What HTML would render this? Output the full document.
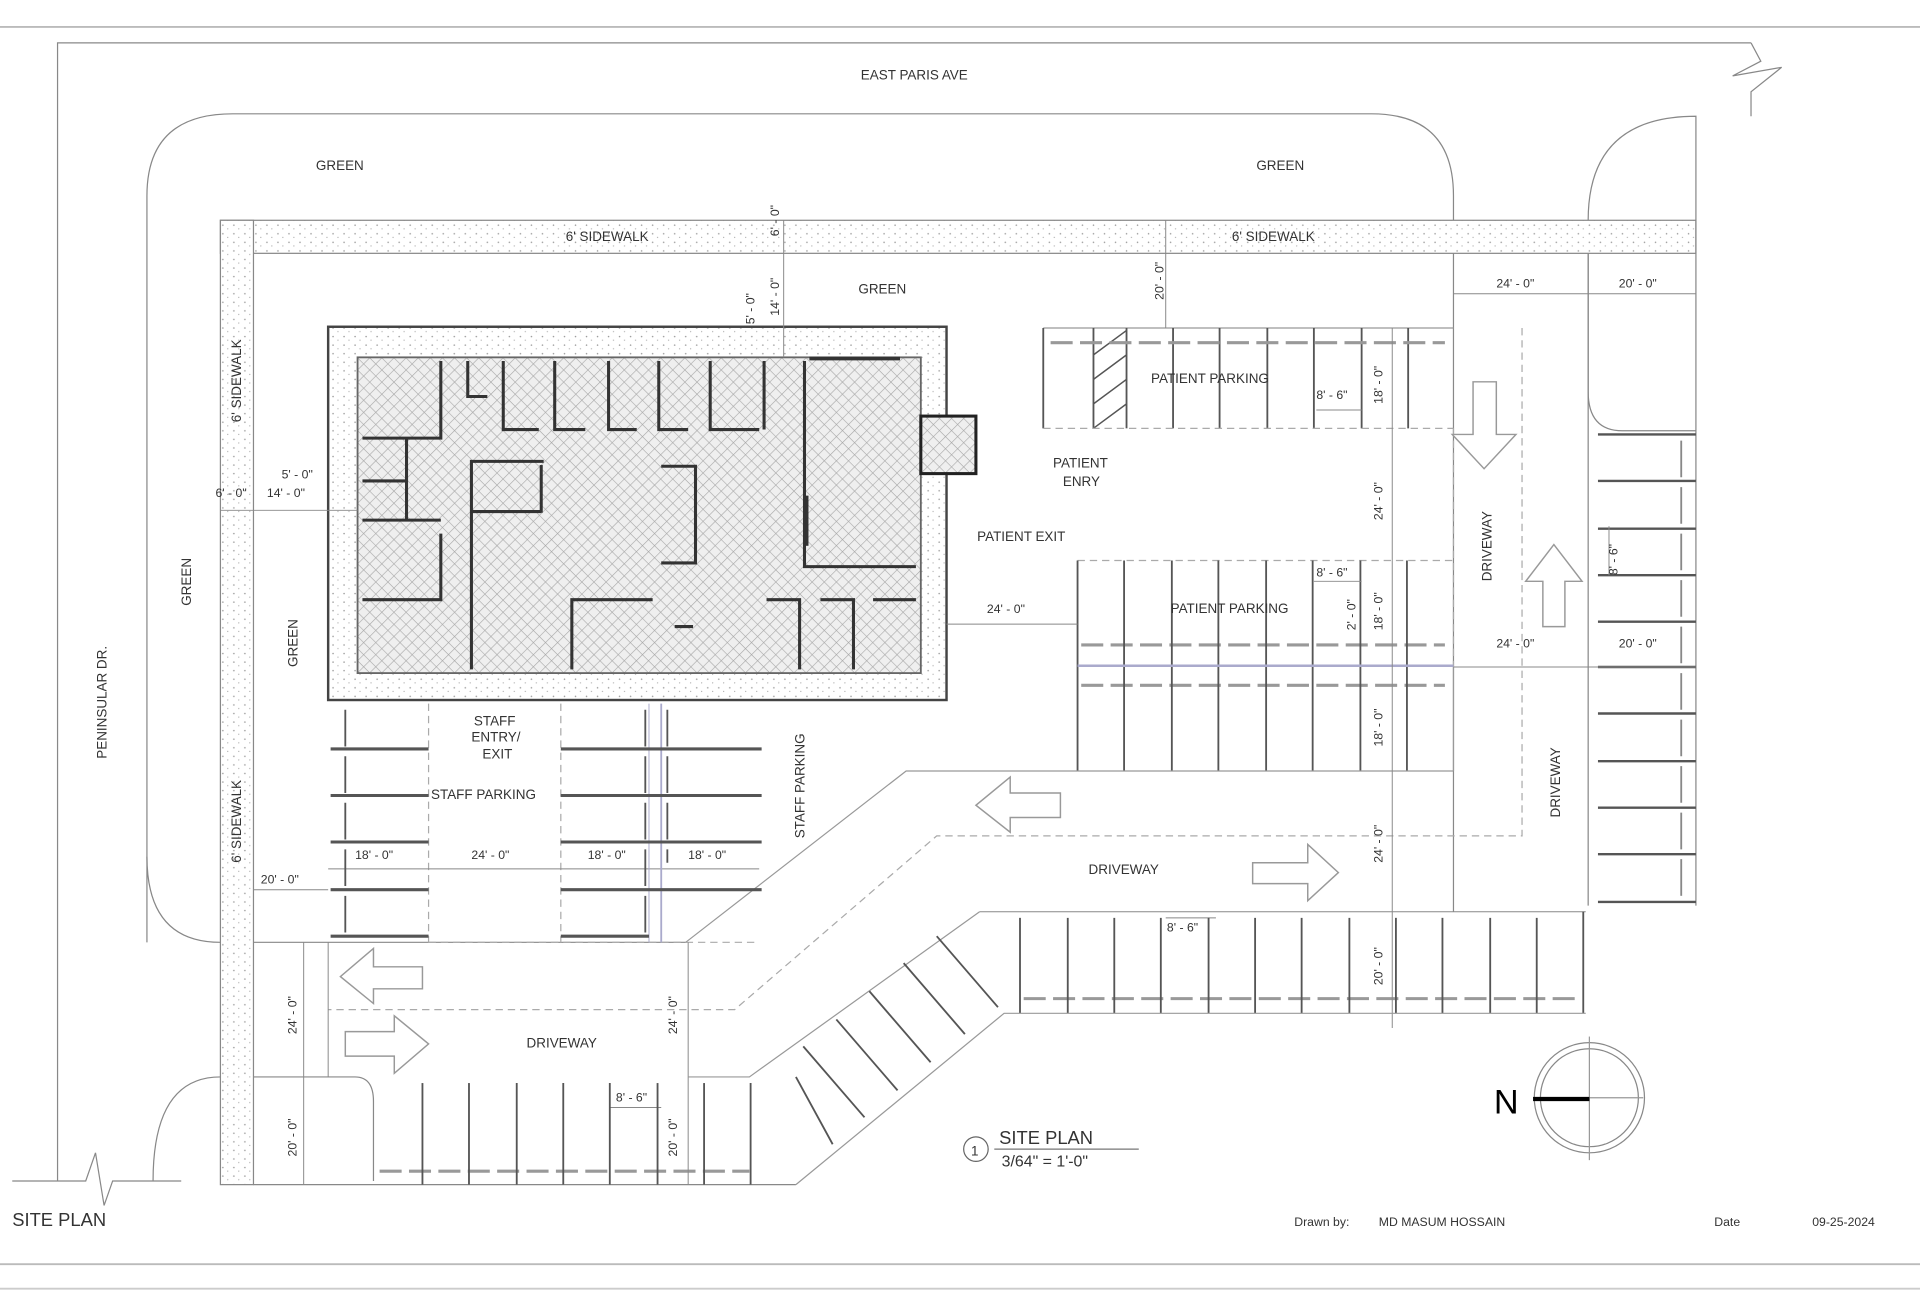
<!DOCTYPE html>
<html><head><meta charset="utf-8"><style>
html,body{margin:0;padding:0;background:#fff;}
svg{display:block;}
text{font-family:"Liberation Sans",sans-serif;fill:#333;}
</style></head><body>
<svg width="1920" height="1296" viewBox="0 0 1568 1059" preserveAspectRatio="none" xmlns="http://www.w3.org/2000/svg">
<defs>
<pattern id="hx" width="7" height="7" patternUnits="userSpaceOnUse" patternTransform="rotate(45)">
<rect width="7" height="7" fill="#efefef"/>
<line x1="0" y1="0" x2="0" y2="7" stroke="#a8a8a8" stroke-width="1"/>
<line x1="0" y1="0" x2="7" y2="0" stroke="#a8a8a8" stroke-width="1"/>
</pattern>
<pattern id="dots" width="9" height="7" patternUnits="userSpaceOnUse">
<rect width="9" height="7" fill="#fff"/>
<circle cx="2" cy="2" r="0.6" fill="#999"/><circle cx="6" cy="5" r="0.5" fill="#aaa"/>
</pattern>
</defs>
<rect width="1568" height="1059" fill="#fff"/>
<line x1="0" y1="22" x2="1568" y2="22" stroke="#bbb" stroke-width="1.5"/>
<line x1="0" y1="1033" x2="1568" y2="1033" stroke="#bbb" stroke-width="1.5"/>
<line x1="0" y1="1053" x2="1568" y2="1053" stroke="#ccc" stroke-width="1.5"/>

<g fill="none" stroke="#888" stroke-width="1">
<polyline points="47,965 47,35 1430,35"/>
<polyline points="1430,35 1438,50 1415,62 1455,55 1430,75 1430,95"/>
<polyline points="10,965 70,965 78,942 85,985 92,965 148,965"/>
<path d="M120,770 L120,160 Q120,93 190,93 L1120,93 Q1187,93 1187,160 L1187,180"/>
<path d="M1297,180 Q1297,95 1385,95 L1385,180"/>
<path d="M1297,207 L1297,320 Q1297,352 1325,352 L1385,352"/>
<path d="M120,700 Q120,770 180,770 L560,770"/>
<path d="M125,965 Q125,880 180,880 L290,880 Q305,880 305,900 L305,965"/>
</g>
<rect x="180" y="180" width="1205" height="27" fill="url(#dots)" stroke="#888"/>
<rect x="180" y="180" width="27" height="788" fill="url(#dots)" stroke="#888"/>
<line x1="1187" y1="207" x2="1187" y2="745" stroke="#888"/>
<line x1="1297" y1="207" x2="1297" y2="740" stroke="#888"/>
<line x1="1385" y1="180" x2="1385" y2="740" stroke="#888"/>
<line x1="207" y1="968" x2="650" y2="968" stroke="#888"/>
<!-- building -->
<rect x="268" y="267" width="505" height="305" fill="url(#dots)" stroke="#444" stroke-width="2"/>
<rect x="292" y="292" width="460" height="258" fill="url(#hx)" stroke="#666" stroke-width="1.5"/>
<rect x="752" y="340" width="45" height="47" fill="url(#hx)" stroke="#222" stroke-width="2.5"/>
<g stroke="#333" stroke-width="2.5" fill="none">
<polyline points="360,295 360,358 296,358"/>
<polyline points="332,358 332,425"/>
<polyline points="296,393 332,393"/>
<polyline points="296,425 360,425"/>
<polyline points="360,436 360,490 296,490"/>
<polyline points="444,377 385,377 385,547"/>
<polyline points="385,418 442,418 M385,460 L442,460 M385,502 L442,502"/>
<polyline points="442,380 442,419 M442,436 L442,502 M442,520 L442,547"/>
<polyline points="382,295 382,324 398,324"/>
<polyline points="411,295 411,351 440,351"/>
<polyline points="453,295 453,351 478,351"/>
<polyline points="497,295 497,351 520,351"/>
<polyline points="538,295 538,351 562,351"/>
<polyline points="580,295 580,351 620,351"/>
<polyline points="624,295 624,351 M624,332 L639,332"/>
<polyline points="657,295 657,463 748,463 M657,386 L752,386"/>
<line x1="661" y1="293" x2="735" y2="293" stroke-width="3"/>
<polyline points="540,381 568,381 568,460 540,460 M533,381 L533,460 M533,420 L568,420"/>
<polyline points="533,490 467,490 467,547 M533,490 L533,547"/>
<polyline points="551,512 566,512 M568,547 L568,490 611,490 611,547"/>
<polyline points="626,490 653,490 653,547"/>
<polyline points="670,490 697,490 697,547"/>
<polyline points="713,490 748,490"/>
<polyline points="659,405 659,446"/>
</g>
<g stroke="#555" stroke-width="1.5">
<line x1="852" y1="268" x2="1187" y2="268" stroke="#999" stroke-width="1"/>
<line x1="852" y1="268" x2="852" y2="350"/><line x1="893" y1="268" x2="893" y2="350"/><line x1="920" y1="268" x2="920" y2="350"/>
<line x1="958" y1="268" x2="958" y2="350"/><line x1="996" y1="268" x2="996" y2="350"/><line x1="1035" y1="268" x2="1035" y2="350"/>
<line x1="1073" y1="268" x2="1073" y2="350"/><line x1="1112" y1="268" x2="1112" y2="350"/><line x1="1150" y1="268" x2="1150" y2="350"/>
</g>
<g stroke="#555" stroke-width="1.2"><line x1="893" y1="290" x2="920" y2="270"/><line x1="893" y1="310" x2="920" y2="290"/><line x1="893" y1="330" x2="920" y2="310"/><line x1="893" y1="350" x2="920" y2="330"/></g>
<g stroke="#999" stroke-width="2.5" stroke-dasharray="18,6">
<line x1="858" y1="280" x2="1180" y2="280"/>
<line x1="883" y1="527" x2="1180" y2="527"/>
<line x1="883" y1="560" x2="1180" y2="560"/>
<line x1="836" y1="816" x2="1290" y2="816"/>
<line x1="310" y1="957" x2="612" y2="957"/>
</g>
<g stroke="#aaa" stroke-dasharray="6,4" fill="none">
<line x1="852" y1="350" x2="1187" y2="350"/>
<line x1="880" y1="458" x2="1187" y2="458"/>
<line x1="1187" y1="350" x2="1187" y2="545"/>
<polyline points="1243,268 1243,683 765,683 600,825 268,825"/>
<line x1="350" y1="575" x2="350" y2="770"/>
<line x1="458" y1="575" x2="458" y2="770"/>
<line x1="350" y1="770" x2="620" y2="770"/>
</g>
<g stroke="#555" stroke-width="1.5">
<line x1="880" y1="458" x2="880" y2="630"/><line x1="918" y1="458" x2="918" y2="630"/><line x1="957" y1="458" x2="957" y2="630"/>
<line x1="995" y1="458" x2="995" y2="630"/><line x1="1034" y1="458" x2="1034" y2="630"/><line x1="1072" y1="458" x2="1072" y2="630"/>
<line x1="1111" y1="458" x2="1111" y2="630"/><line x1="1149" y1="458" x2="1149" y2="630"/>
</g>
<line x1="880" y1="630" x2="1187" y2="630" stroke="#999"/>
<line x1="1187" y1="545" x2="1187" y2="630" stroke="#999"/>
<line x1="880" y1="544" x2="1187" y2="544" stroke="#aac" stroke-width="2"/>
<g stroke="#555" stroke-width="2">
<line x1="1305" y1="355" x2="1385" y2="355"/><line x1="1305" y1="393" x2="1385" y2="393"/><line x1="1305" y1="432" x2="1385" y2="432"/>
<line x1="1305" y1="470" x2="1385" y2="470"/><line x1="1305" y1="508" x2="1385" y2="508"/>
<line x1="1305" y1="545" x2="1385" y2="545"/><line x1="1305" y1="583" x2="1385" y2="583"/><line x1="1305" y1="622" x2="1385" y2="622"/>
<line x1="1305" y1="660" x2="1385" y2="660"/><line x1="1305" y1="698" x2="1385" y2="698"/><line x1="1305" y1="737" x2="1385" y2="737"/>
</g>
<line x1="1373" y1="360" x2="1373" y2="735" stroke="#888" stroke-width="1.5" stroke-dasharray="30,8"/>
<g stroke="#888" stroke-width="0.8">
<line x1="1137" y1="268" x2="1137" y2="840"/>
<line x1="1187" y1="545" x2="1385" y2="545"/>
<line x1="1187" y1="240" x2="1385" y2="240"/>
<line x1="1075" y1="335" x2="1112" y2="335"/><line x1="1073" y1="475" x2="1112" y2="475"/>
<line x1="773" y1="510" x2="880" y2="510"/>
<line x1="800" y1="745" x2="1295" y2="745"/>
<line x1="952" y1="180" x2="952" y2="268"/>
<line x1="640" y1="180" x2="640" y2="292"/>
<line x1="180" y1="417" x2="292" y2="417"/>
<line x1="1314" y1="430" x2="1314" y2="470"/>
<line x1="268" y1="710" x2="620" y2="710"/>
<line x1="207" y1="727" x2="268" y2="727"/>
<line x1="248" y1="770" x2="248" y2="968"/>
<line x1="562" y1="770" x2="562" y2="968"/>
<line x1="268" y1="770" x2="268" y2="880"/>
<line x1="952" y1="750" x2="993" y2="750"/>
<line x1="498" y1="905" x2="540" y2="905"/>
<line x1="540" y1="575" x2="540" y2="770" stroke="#aac" stroke-width="1.5"/>
<line x1="530" y1="575" x2="530" y2="770" stroke="#aac"/>
</g>
<g stroke="#555" stroke-width="1.5">
<line x1="833" y1="750" x2="833" y2="828"/><line x1="872" y1="750" x2="872" y2="828"/><line x1="910" y1="750" x2="910" y2="828"/>
<line x1="948" y1="750" x2="948" y2="828"/><line x1="987" y1="750" x2="987" y2="828"/><line x1="1025" y1="750" x2="1025" y2="828"/>
<line x1="1063" y1="750" x2="1063" y2="828"/><line x1="1102" y1="750" x2="1102" y2="828"/><line x1="1140" y1="750" x2="1140" y2="828"/>
<line x1="1178" y1="750" x2="1178" y2="828"/><line x1="1217" y1="750" x2="1217" y2="828"/><line x1="1255" y1="750" x2="1255" y2="828"/>
<line x1="1293" y1="745" x2="1293" y2="828"/>
</g>
<g stroke="#999" fill="none"><polyline points="560,770 740,630 880,630"/><polyline points="1295,828 820,828 650,968"/><polyline points="562,880 612,880 800,745"/></g>
<g stroke="#555" stroke-width="1.5">
<line x1="765" y1="765" x2="815" y2="823"/><line x1="738" y1="787" x2="788" y2="845"/><line x1="710" y1="810" x2="760" y2="868"/>
<line x1="683" y1="833" x2="733" y2="891"/><line x1="656" y1="855" x2="706" y2="913"/><line x1="650" y1="880" x2="680" y2="935"/>
</g>
<g stroke="#555" stroke-width="1.5">
<line x1="345" y1="885" x2="345" y2="968"/><line x1="383" y1="885" x2="383" y2="968"/><line x1="422" y1="885" x2="422" y2="968"/>
<line x1="460" y1="885" x2="460" y2="968"/><line x1="498" y1="885" x2="498" y2="968"/><line x1="537" y1="885" x2="537" y2="968"/>
<line x1="575" y1="885" x2="575" y2="968"/><line x1="613" y1="885" x2="613" y2="968"/>
</g>
<g stroke="#555" stroke-width="2.5">
<line x1="270" y1="612" x2="350" y2="612"/><line x1="270" y1="650" x2="350" y2="650"/><line x1="270" y1="688" x2="350" y2="688"/><line x1="270" y1="727" x2="350" y2="727"/><line x1="270" y1="765" x2="350" y2="765"/>
<line x1="458" y1="612" x2="622" y2="612"/><line x1="458" y1="650" x2="622" y2="650"/><line x1="458" y1="688" x2="622" y2="688"/><line x1="458" y1="727" x2="622" y2="727"/><line x1="458" y1="765" x2="530" y2="765"/>
</g>
<g stroke="#555" stroke-width="1.5" stroke-dasharray="30,8">
<line x1="282" y1="580" x2="282" y2="765"/><line x1="527" y1="580" x2="527" y2="765"/><line x1="545" y1="580" x2="545" y2="705"/>
</g>
<g fill="#fff" stroke="#999" stroke-width="1.2">
<path d="M1203,312 L1222,312 L1222,355 L1238,355 L1212,383 L1186,355 L1203,355 Z"/>
<path d="M1260,512 L1278,512 L1278,475 L1292,475 L1269,445 L1246,475 L1260,475 Z"/>
<path d="M866,648 L866,668 L825,668 L825,680 L797,658 L825,635 L825,648 Z"/>
<path d="M1023,705 L1023,722 L1068,722 L1068,736 L1093,713 L1068,690 L1068,705 Z"/>
<path d="M345,790 L345,808 L305,808 L305,820 L278,798 L305,775 L305,790 Z"/>
<path d="M282,843 L282,863 L322,863 L322,877 L350,853 L322,830 L322,843 Z"/>
</g>
<circle cx="1298" cy="897" r="45" fill="none" stroke="#888"/>
<circle cx="1298" cy="897" r="40" fill="none" stroke="#888"/>
<line x1="1298" y1="847" x2="1298" y2="948" stroke="#999"/>
<line x1="1252" y1="897" x2="1342" y2="897" stroke="#999"/>
<line x1="1252" y1="898" x2="1298" y2="898" stroke="#000" stroke-width="3.5"/>
<text x="1220" y="910" font-size="28" style="fill:#000">N</text>
<circle cx="797" cy="939" r="10" fill="none" stroke="#666"/>
<text x="793" y="944" font-size="11">1</text>
<text x="816" y="935" font-size="15">SITE PLAN</text>
<line x1="812" y1="939" x2="930" y2="939" stroke="#777"/>
<text x="818" y="953" font-size="13">3/64" = 1'-0"</text>
<text x="10" y="1002" font-size="15">SITE PLAN</text>
<text x="1057" y="1002" font-size="10">Drawn by:</text>
<text x="1126" y="1002" font-size="10">MD MASUM HOSSAIN</text>
<text x="1400" y="1002" font-size="10">Date</text>
<text x="1480" y="1002" font-size="10">09-25-2024</text>
<g font-size="11">
<text x="703" y="65">EAST PARIS AVE</text>
<text x="258" y="139">GREEN</text>
<text x="1026" y="139">GREEN</text>
<text x="701" y="240">GREEN</text>
<text x="462" y="197">6' SIDEWALK</text>
<text x="1006" y="197">6' SIDEWALK</text>
<text x="940" y="313">PATIENT PARKING</text>
<text x="956" y="501">PATIENT PARKING</text>
<text x="860" y="382">PATIENT</text><text x="868" y="397">ENRY</text>
<text x="798" y="442">PATIENT EXIT</text>
<text x="352" y="653">STAFF PARKING</text>
<text x="387" y="593">STAFF</text><text x="385" y="606">ENTRY/</text><text x="394" y="620">EXIT</text>
<text x="889" y="714">DRIVEWAY</text>
<text x="430" y="856">DRIVEWAY</text>
</g>
<g font-size="10">
<text x="1222" y="235">24' - 0"</text><text x="1322" y="235">20' - 0"</text>
<text x="1222" y="529">24' - 0"</text><text x="1322" y="529">20' - 0"</text>
<text x="1075" y="326">8' - 6"</text><text x="1075" y="471">8' - 6"</text>
<text x="806" y="501">24' - 0"</text>
<text x="230" y="391">5' - 0"</text><text x="176" y="406">6' - 0"</text><text x="218" y="406">14' - 0"</text>
<text x="290" y="702">18' - 0"</text><text x="385" y="702">24' - 0"</text><text x="480" y="702">18' - 0"</text><text x="562" y="702">18' - 0"</text>
<text x="213" y="722">20' - 0"</text>
<text x="953" y="761">8' - 6"</text><text x="503" y="900">8' - 6"</text>
</g>
<g font-size="11">
<text transform="translate(87,620) rotate(-90)">PENINSULAR DR.</text>
<text transform="translate(156,495) rotate(-90)">GREEN</text>
<text transform="translate(243,545) rotate(-90)">GREEN</text>
<text transform="translate(197,345) rotate(-90)">6' SIDEWALK</text>
<text transform="translate(197,705) rotate(-90)">6' SIDEWALK</text>
<text transform="translate(657,685) rotate(-90)">STAFF PARKING</text>
<text transform="translate(1218,475) rotate(-90)">DRIVEWAY</text>
<text transform="translate(1274,668) rotate(-90)">DRIVEWAY</text>
</g>
<g font-size="10">
<text transform="translate(1129,425) rotate(-90)">24' - 0"</text>
<text transform="translate(1129,330) rotate(-90)">18' - 0"</text>
<text transform="translate(1129,515) rotate(-90)">18' - 0"</text>
<text transform="translate(1107,515) rotate(-90)">2' - 0"</text>
<text transform="translate(1129,610) rotate(-90)">18' - 0"</text>
<text transform="translate(1129,705) rotate(-90)">24' - 0"</text>
<text transform="translate(1129,805) rotate(-90)">20' - 0"</text>
<text transform="translate(950,245) rotate(-90)">20' - 0"</text>
<text transform="translate(636,258) rotate(-90)">14' - 0"</text>
<text transform="translate(616,265) rotate(-90)">5' - 0"</text>
<text transform="translate(636,193) rotate(-90)">6' - 0"</text>
<text transform="translate(1321,470) rotate(-90)">8' - 6"</text>
<text transform="translate(242,845) rotate(-90)">24' - 0"</text>
<text transform="translate(553,845) rotate(-90)">24' - 0"</text>
<text transform="translate(242,945) rotate(-90)">20' - 0"</text>
<text transform="translate(553,945) rotate(-90)">20' - 0"</text>
</g>
</svg>
</body></html>
